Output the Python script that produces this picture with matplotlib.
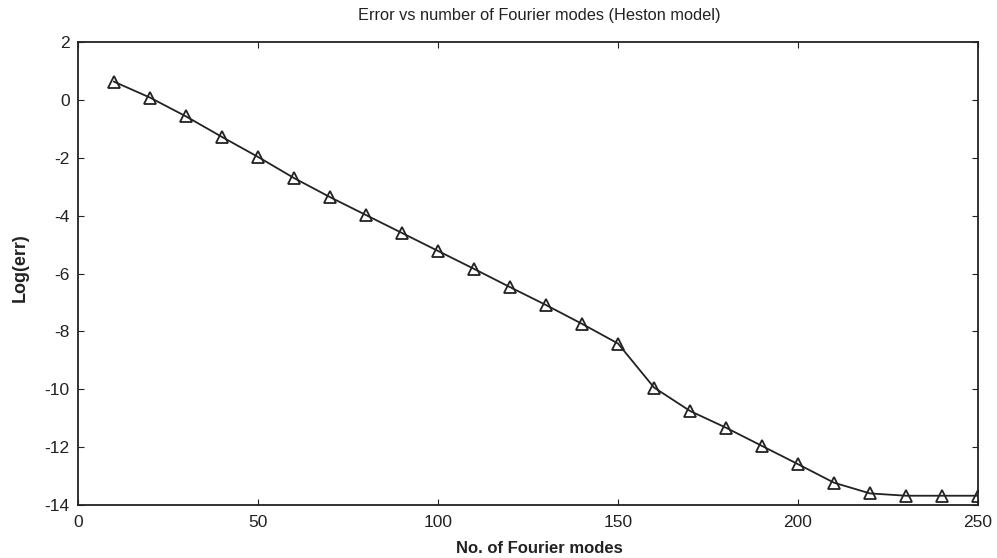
import matplotlib
matplotlib.use("Agg")
import matplotlib.pyplot as plt

plt.rcParams['font.family'] = ['Liberation Sans', 'DejaVu Sans']
plt.rcParams['axes.unicode_minus'] = False

modes = [10, 20, 30, 40, 50, 60, 70, 80, 90, 100, 110, 120, 130,
         140, 150, 160, 170, 180, 190, 200, 210, 220, 230, 240, 250]
log_err = [0.63, 0.08, -0.57, -1.28, -1.97, -2.70, -3.36, -3.98, -4.60,
           -5.22, -5.84, -6.47, -7.09, -7.74, -8.42, -9.94, -10.75, -11.33,
           -11.96, -12.59, -13.23, -13.60, -13.68, -13.68, -13.68]

xticks = [0, 50, 100, 150, 200, 250]
yticks = [-14, -12, -10, -8, -6, -4, -2, 0, 2]

ink = '#222222'

fig = plt.figure(figsize=(9.97, 5.58), dpi=100)
ax = fig.add_axes([0.0782, 0.095, 0.9028, 0.8297])

ax.plot(modes, log_err, color=ink, linewidth=1.3, marker='^',
        markersize=9, markerfacecolor='none', markeredgecolor=ink,
        markeredgewidth=1.3)

ax.set_xlim(0, 250)
ax.set_ylim(-14, 2)
ax.set_xticks(xticks)
ax.set_yticks(yticks)
ax.tick_params(direction='in', top=True, right=True, length=4,
               labelsize=12.5, colors=ink)
ax.tick_params(axis='x', pad=7.5)
ax.tick_params(axis='y', pad=6)
for s in ax.spines.values():
    s.set_linewidth(1.3)
    s.set_color(ink)

ax.set_title('Error vs number of Fourier modes (Heston model)',
             fontsize=11.8, color=ink, va='center', x=0.513, y=1.058, pad=0)

ax.set_xlabel('No. of Fourier modes', fontsize=12, fontweight='bold',
              color=ink, va='center')
ax.xaxis.set_label_coords(0.513, -0.095)

ax.set_ylabel('Log(err)', fontsize=13, fontweight='bold', color=ink,
              va='center')
ax.yaxis.set_label_coords(-0.0644, 0.512)

fig.savefig('out.png', dpi=100)
